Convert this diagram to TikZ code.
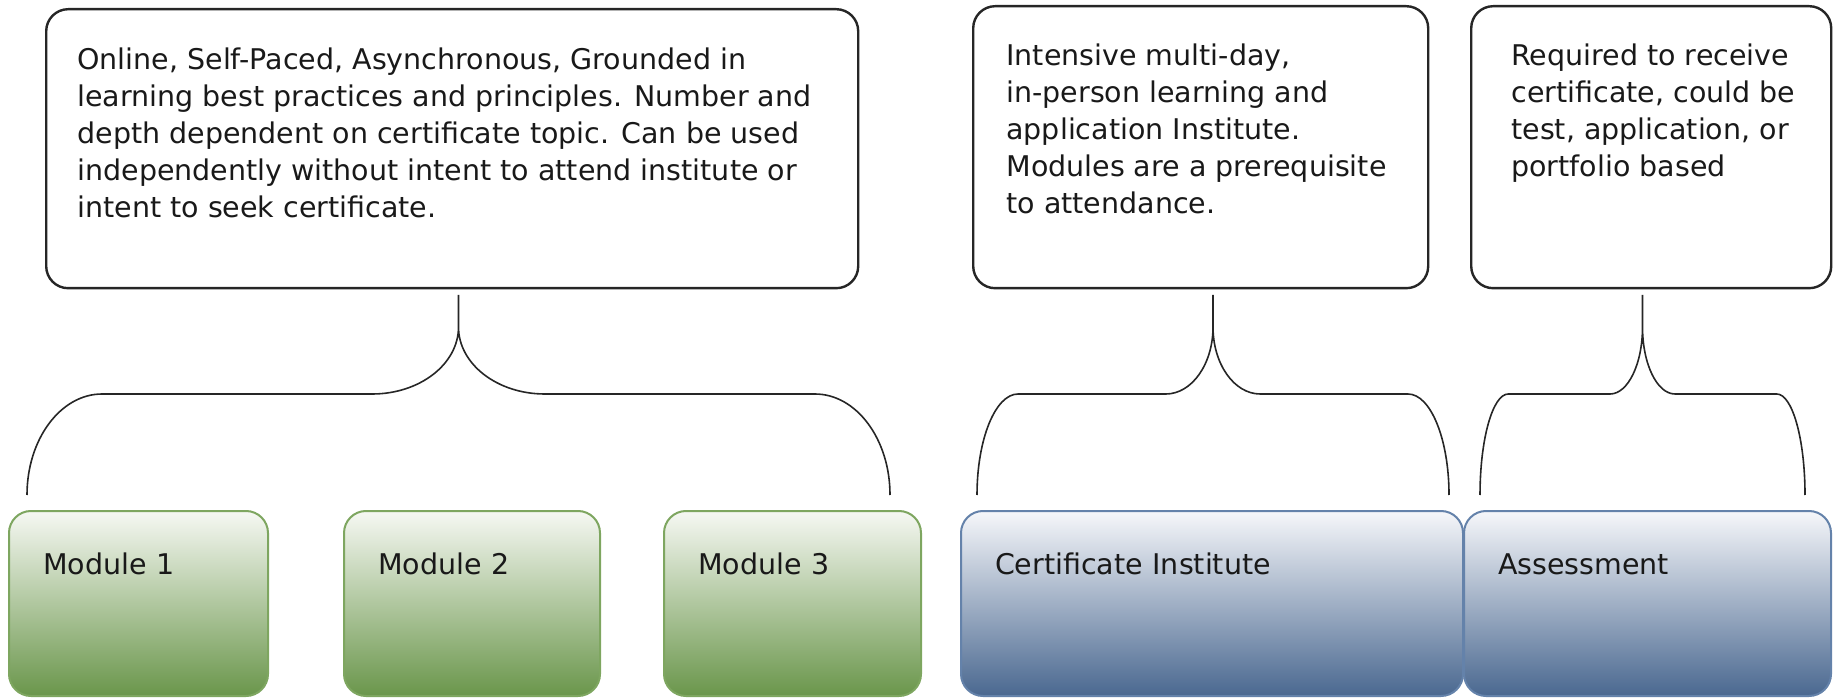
\documentclass[tikz,border=0pt]{standalone}
\usepackage{fontspec}
\setmainfont{DejaVu Sans}
\usetikzlibrary{calc}
\definecolor{grpgreen}{RGB}{106,150,75}
\definecolor{grpgreenline}{RGB}{126,166,96}
\definecolor{grpgreentop}{RGB}{246,248,243}
\definecolor{grpblue}{RGB}{74,104,144}
\definecolor{grpblueline}{RGB}{100,130,170}
\definecolor{grpbluetop}{RGB}{246,247,250}
\tikzset{
  note/.style={draw=black!85, line width=1.2pt, rounded corners=11pt, anchor=north west, inner sep=0pt},
  notetext/.style={anchor=north west, inner sep=0pt, align=left, text=black!90, font=\fontsize{14.25pt}{18.5pt}\selectfont},
  grp/.style={anchor=north west, rounded corners=11pt, line width=1pt, inner xsep=17pt, inner ysep=0pt,
    text height=31.5pt, text depth=61pt, align=left, text=black!90, font=\fontsize{14.25pt}{18.3pt}\selectfont},
  modbox/.style={grp, draw=grpgreenline, top color=grpgreentop, bottom color=grpgreen},
  instbox/.style={grp, draw=grpblueline, top color=grpbluetop, bottom color=grpblue},
  bracket/.style={line width=0.8pt, black!85}
}
\begin{document}
\begin{tikzpicture}[x=0.5pt, y=-0.5pt]
\useasboundingbox (0,0) rectangle (1845,699);
%callouts
\node[note, minimum width=406pt, minimum height=139.5pt] (ca) at (45,8) {};
\node[note, minimum width=227.5pt, minimum height=141pt] (cb) at (972,5) {};
\node[note, minimum width=180pt, minimum height=141pt] (cc) at (1470,5) {};
\node[notetext] (ta) at ($(ca.north west)+(32,39)$) {Online, Self-Paced, Asynchronous, Grounded in\\learning best practices and principles. Number and\\depth dependent on certificate topic. Can be used\\independently without intent to attend institute or\\intent to seek certificate.};
\node[notetext] (tb) at ($(cb.north west)+(34,38)$) {Intensive multi-day,\\in-person learning and\\application Institute.\\Modules are a prerequisite\\to attendance.};
\node[notetext] (tc) at ($(cc.north west)+(41,38)$) {Required to receive\\certificate, could be\\test, application, or\\portfolio based};
%groups
\node[modbox, text width=95.5pt] (m1) at (8,510) {Module 1};
\node[modbox, text width=94pt] (m2) at (343,510) {Module 2};
\node[modbox, text width=94.5pt] (m3) at (663,510) {Module 3};
\node[instbox, text width=217pt] (ci) at (960,510) {Certificate Institute};
\node[instbox, text width=149.5pt] (as) at (1463,510) {Assessment};
%brace ends
\coordinate (ba-l) at ($(m1.north west)+(19,-15)$);
\coordinate (ba-r) at ($(m3.north east)+(-32,-15)$);
\coordinate (bb-l) at ($(ci.north west)+(17,-15)$);
\coordinate (bb-r) at ($(ci.north east)+(-15,-15)$);
\coordinate (bc-l) at ($(as.north west)+(17,-15)$);
\coordinate (bc-r) at ($(as.north east)+(-27,-15)$);
%braces
\foreach \a/\b in {ba-l/ba-r, bb-l/bb-r, bc-l/bc-r}{
  \draw[bracket] let \p1=(\a), \p2=(\b), \n1={0.087*(\x2-\x1)}, \n2={0.1*(\x2-\x1)}, \n4={0.5*(\x2-\x1)} in
    (\p1) .. controls (\x1,\y1+27.9pt) and (\x1+0.448*\n1,\y1+50.5pt) .. (\x1+\n1,\y1+50.5pt)
    -- (\x1+\n4-\n2,\y1+50.5pt) .. controls (\x1+\n4-0.448*\n2,\y1+50.5pt) and (\x1+\n4,\y1+65.5pt) .. (\x1+\n4,\y1+84pt)
    -- (\x1+\n4,\y1+100pt)
    (\x1+\n4,\y1+84pt) .. controls (\x1+\n4,\y1+65.5pt) and (\x1+\n4+0.448*\n2,\y1+50.5pt) .. (\x1+\n4+\n2,\y1+50.5pt)
    -- (\x2-\n1,\y1+50.5pt) .. controls (\x2-0.448*\n1,\y1+50.5pt) and (\x2,\y1+27.9pt) .. (\p2);
}
\end{tikzpicture}
\end{document}
